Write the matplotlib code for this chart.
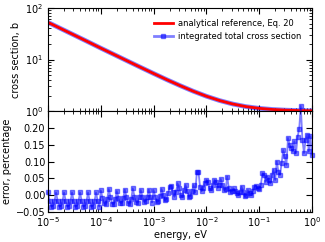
import matplotlib
matplotlib.use('Agg')
import matplotlib.pyplot as plt
from matplotlib.lines import Line2D
import numpy as np

# analytical reference, read at quarter decades from 1e-5 to 1 eV
ref_logE = [-5.0, -4.75, -4.5, -4.25, -4.0, -3.75, -3.5, -3.25, -3.0, -2.75, -2.5,
            -2.25, -2.0, -1.75, -1.5, -1.25, -1.0, -0.75, -0.5, -0.25, 0.0]
ref_sigma = [52.5, 39.4, 29.6, 22.2, 16.6, 12.5, 9.40, 7.08, 5.35, 4.06, 3.12,
             2.43, 1.94, 1.60, 1.37, 1.22, 1.13, 1.075, 1.043, 1.024, 1.014]

# relative error (percent), one value per grid point, decade by decade
err_dec1 = [0.008, -0.018, -0.034, -0.032, -0.018] * 6 + [0.008, -0.018, -0.034]
err_dec2 = [0.014, -0.008, -0.024, -0.026, -0.010,
            0.018, -0.006, -0.025, -0.027, -0.012,
            0.012, -0.008, -0.022, -0.024, -0.008,
            0.016, -0.006, -0.024, -0.025, -0.010,
            0.020, -0.004, -0.020, -0.022, -0.006,
            0.015, -0.005, -0.020, -0.018, -0.004,
            0.016, -0.006, -0.022]
err_dec3 = [0.015, -0.005, -0.020, -0.018, -0.002, 0.018, 0.000, -0.015, -0.012, 0.005,
            0.025, 0.028, 0.008, -0.005, 0.010, 0.035, 0.020, 0.000, -0.005, 0.015,
            0.030, 0.012, -0.005, -0.002, 0.012, 0.030, 0.008,
            0.068, 0.070, 0.025, 0.012, 0.020, 0.035]
err_dec4 = [0.045, 0.038, 0.020, 0.015, 0.030, 0.045, 0.040, 0.022, 0.030, 0.048,
            0.030, 0.015, 0.018, 0.055, 0.020, 0.010, 0.012, 0.020, 0.012, 0.005, 0.000, 0.010,
            0.025, 0.010, -0.003, 0.000, 0.015, 0.005, 0.000, 0.012, 0.025, 0.028, 0.020]
err_dec5 = [0.018, 0.030, 0.065, 0.060, 0.040, 0.055, 0.045, 0.035, 0.060,
            0.075, 0.045, 0.100, 0.070, 0.060, 0.095, 0.134, 0.115, 0.090, 0.170,
            0.150, 0.140, 0.130, 0.160, 0.125, 0.173, 0.198,
            0.265,
            0.165, 0.125, 0.165, 0.180, 0.130, 0.175, 0.120]
error = err_dec1 + err_dec2 + err_dec3 + err_dec4 + err_dec5

energy = np.logspace(-5, 0, len(error))
ref_E = 10.0 ** np.array(ref_logE)

plt.rcParams['font.family'] = 'DejaVu Sans'
plt.rcParams['xtick.direction'] = 'in'
plt.rcParams['ytick.direction'] = 'in'
plt.rcParams['xtick.top'] = True
plt.rcParams['ytick.right'] = True
plt.rcParams['xtick.major.size'] = 4
plt.rcParams['ytick.major.size'] = 4
plt.rcParams['xtick.minor.size'] = 2
plt.rcParams['ytick.minor.size'] = 2
plt.rcParams['axes.linewidth'] = 0.8
plt.rcParams['mathtext.default'] = 'regular'

fig = plt.figure(figsize=(3.25, 2.42), dpi=100)
ax1 = fig.add_axes([0.148, 0.541, 0.812, 0.426])
ax2 = fig.add_axes([0.148, 0.124, 0.812, 0.417], sharex=ax1)

ax1.plot(ref_E, ref_sigma, color='b', alpha=0.5, lw=3.4)
ax1.plot(ref_E, ref_sigma, color='r', lw=2.0)
ax1.set_xscale('log')
ax1.set_yscale('log')
ax1.set_ylim(1, 100)
ax1.set_xlim(1e-5, 1)
ax1.set_ylabel('cross section, b', fontsize=7, labelpad=3)
ax1.tick_params(labelbottom=False, labelsize=7)

handles = [Line2D([], [], color='r', lw=2),
           Line2D([], [], color='b', alpha=0.5, lw=2, marker='s', ms=2.5)]
ax1.legend(handles, ['analytical reference, Eq. 20', 'integrated total cross section'],
           loc='upper right', frameon=False, fontsize=6.0, handlelength=2.3,
           handletextpad=0.6, labelspacing=0.55, borderaxespad=0.9)

ax2.plot(energy, error, color='b', alpha=0.5, lw=1.3, marker='s', ms=2.8,
         mec='b', clip_on=False)
ax2.set_ylim(-0.05, 0.25)
ax2.set_yticks([-0.05, 0.0, 0.05, 0.10, 0.15, 0.20])
ax2.set_yticklabels(['\u22120.05', '0.00', '0.05', '0.10', '0.15', '0.20'])
ax2.set_xlim(1e-5, 1)
ax2.set_xlabel('energy, eV', fontsize=7, labelpad=1)
ax2.set_ylabel('error, percentage', fontsize=7, labelpad=3)
ax2.tick_params(labelsize=7, pad=2)

fig.savefig('out.png', dpi=100, facecolor='white')
